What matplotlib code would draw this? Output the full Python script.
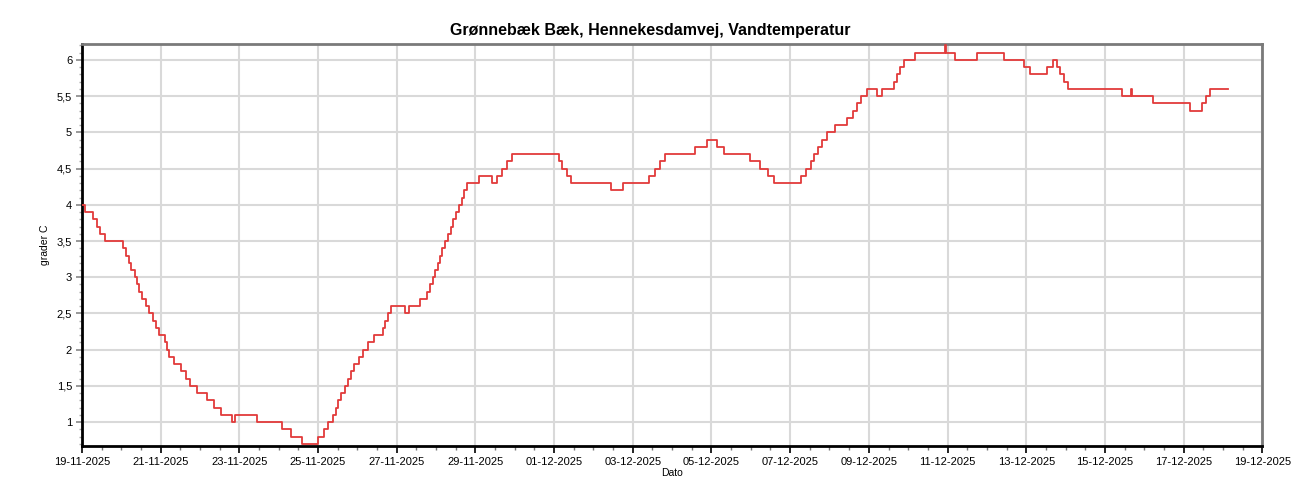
import matplotlib
matplotlib.use("Agg")
import matplotlib.pyplot as plt
import matplotlib.dates as mdates
from matplotlib.ticker import FuncFormatter, MultipleLocator, FixedLocator
import numpy as np
import pandas as pd

plt.rcParams['font.family'] = ['Liberation Sans', 'DejaVu Sans']

title = "Grønnebæk Bæk, Hennekesdamvej, Vandtemperatur"
ylabel = "grader C"
xlabel = "Dato"
start_date = "2025-11-19"
end_date = "2025-12-19"

# days after 19-11-2025 00:00 at which the temperature changes
change_days = [
    0.00, 0.08, 0.29, 0.39, 0.47, 0.58, 1.05, 1.11, 1.19, 1.25,
    1.36, 1.41, 1.46, 1.52, 1.63, 1.71, 1.81, 1.88, 1.95, 2.11,
    2.17, 2.22, 2.35, 2.52, 2.64, 2.76, 2.92, 3.17, 3.36, 3.54,
    3.82, 3.90, 4.46, 5.09, 5.31, 5.59, 6.01, 6.16, 6.25, 6.39,
    6.46, 6.52, 6.59, 6.69, 6.76, 6.84, 6.92, 7.04, 7.15, 7.26,
    7.43, 7.65, 7.71, 7.78, 7.86, 8.22, 8.32, 8.59, 8.76, 8.85,
    8.92, 8.97, 9.05, 9.10, 9.15, 9.22, 9.31, 9.37, 9.43, 9.50,
    9.59, 9.66, 9.72, 9.80, 10.08, 10.42, 10.56, 10.67, 10.80, 10.93,
    12.12, 12.20, 12.32, 12.42, 13.44, 13.76, 14.41, 14.56, 14.70, 14.82,
    15.59, 15.88, 16.15, 16.33, 16.97, 17.24, 17.45, 17.58, 18.28, 18.41,
    18.53, 18.61, 18.72, 18.81, 18.93, 19.15, 19.44, 19.60, 19.70, 19.81,
    19.95, 20.21, 20.33, 20.65, 20.71, 20.80, 20.90, 21.18, 21.94, 21.97,
    22.20, 22.75, 23.43, 23.95, 24.09, 24.53, 24.68, 24.78, 24.85, 24.95,
    25.06, 26.43, 26.66, 26.69, 27.21, 28.15, 28.48, 28.58, 28.68, 29.12,
]
temps = [
    4.0, 3.9, 3.8, 3.7, 3.6, 3.5, 3.4, 3.3, 3.2, 3.1,
    3.0, 2.9, 2.8, 2.7, 2.6, 2.5, 2.4, 2.3, 2.2, 2.1,
    2.0, 1.9, 1.8, 1.7, 1.6, 1.5, 1.4, 1.3, 1.2, 1.1,
    1.0, 1.1, 1.0, 0.9, 0.8, 0.7, 0.8, 0.9, 1.0, 1.1,
    1.2, 1.3, 1.4, 1.5, 1.6, 1.7, 1.8, 1.9, 2.0, 2.1,
    2.2, 2.3, 2.4, 2.5, 2.6, 2.5, 2.6, 2.7, 2.8, 2.9,
    3.0, 3.1, 3.2, 3.3, 3.4, 3.5, 3.6, 3.7, 3.8, 3.9,
    4.0, 4.1, 4.2, 4.3, 4.4, 4.3, 4.4, 4.5, 4.6, 4.7,
    4.6, 4.5, 4.4, 4.3, 4.2, 4.3, 4.4, 4.5, 4.6, 4.7,
    4.8, 4.9, 4.8, 4.7, 4.6, 4.5, 4.4, 4.3, 4.4, 4.5,
    4.6, 4.7, 4.8, 4.9, 5.0, 5.1, 5.2, 5.3, 5.4, 5.5,
    5.6, 5.5, 5.6, 5.7, 5.8, 5.9, 6.0, 6.1, 6.2, 6.1,
    6.0, 6.1, 6.0, 5.9, 5.8, 5.9, 6.0, 5.9, 5.8, 5.7,
    5.6, 5.5, 5.6, 5.5, 5.4, 5.3, 5.4, 5.5, 5.6, 5.6,
]

y_ticks = [1, 1.5, 2, 2.5, 3, 3.5, 4, 4.5, 5, 5.5, 6]

t0 = pd.Timestamp(start_date)
t1 = pd.Timestamp(end_date)
times = [t0 + pd.Timedelta(days=d) for d in change_days]

fig = plt.figure(figsize=(13, 5), dpi=100)
ax = fig.add_axes([0.063, 0.108, 0.908, 0.804])

ax.step(times, temps, where='post', color='#e23a3a', linewidth=1.3, zorder=3)

ax.set_xlim(t0, t1)
ax.set_ylim(0.67, 6.22)

major_x = mdates.date2num(pd.date_range(t0, t1, freq='2D').to_pydatetime())
minor_x = mdates.date2num(pd.date_range(t0, t1, freq='12h').to_pydatetime())
ax.xaxis.set_major_locator(FixedLocator(major_x))
ax.xaxis.set_minor_locator(FixedLocator(minor_x))
ax.xaxis.set_major_formatter(mdates.DateFormatter('%d-%m-%Y'))
ax.set_yticks(y_ticks)
ax.yaxis.set_minor_locator(MultipleLocator(0.1))
ax.yaxis.set_major_formatter(FuncFormatter(lambda v, p: f"{v:g}".replace('.', ',')))

ax.grid(True, which='major', color='#d9d9d9', linewidth=1.5, zorder=0)

ax.tick_params(axis='x', which='major', direction='out', length=5, width=1.2,
               color='black', labelsize=8, pad=3)
ax.tick_params(axis='x', which='minor', direction='out', length=3, width=1,
               color='#777777')
ax.tick_params(axis='y', which='major', direction='out', length=4, width=1.2,
               color='#888888', labelsize=8, pad=3)
ax.tick_params(axis='y', which='minor', direction='out', length=2.5, width=1,
               color='#aaaaaa')

for side in ['left', 'bottom']:
    ax.spines[side].set_color('black')
    ax.spines[side].set_linewidth(2)
for side in ['top', 'right']:
    ax.spines[side].set_color('#7a7a7a')
    ax.spines[side].set_linewidth(2)

fig.text(0.5, 0.94, title, fontsize=11.5, fontweight='bold',
         ha='center', va='center')
ax.set_ylabel(ylabel, fontsize=7.5, labelpad=5)
ax.set_xlabel(xlabel, fontsize=7.5, labelpad=1)

fig.savefig('out.png', dpi=100)
